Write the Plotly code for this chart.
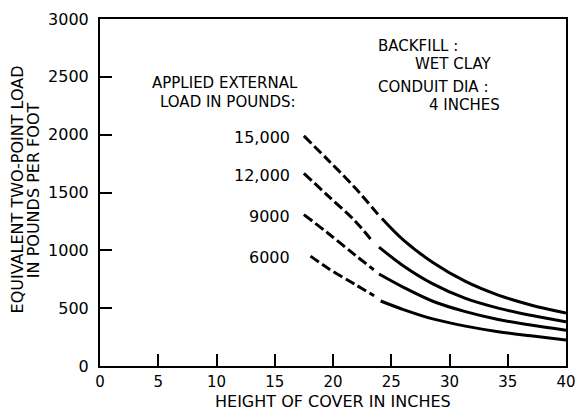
import plotly.graph_objects as go

# ---- data ----
loads = ["15,000", "12,000", "9000", "6000"]

# dashed (extrapolated) portion of each curve
dash_x = [
    [17.5, 19.6, 21.85, 23.95],
    [17.5, 19.6, 21.85, 23.4],
    [17.5, 19.6, 21.85, 23.5],
    [18.07, 19.6, 21.85, 23.53],
]
dash_y = [
    [1989, 1778, 1545, 1300],
    [1666, 1469, 1258, 1076],
    [1309, 1146, 963, 832],
    [950, 843, 708, 607],
]

# solid portion of each curve
solid_x = [
    [24.2, 26.05, 28.57, 31.37, 34.18, 36.97, 40],
    [23.95, 26.05, 28.57, 31.37, 34.18, 36.97, 40],
    [23.95, 26.05, 28.57, 31.37, 34.18, 36.97, 40],
    [24.09, 26.05, 28.57, 31.37, 34.18, 36.97, 40],
]
solid_y = [
    [1275, 1088, 895, 731, 613, 528, 458],
    [1028, 865, 710, 584, 500, 438, 382],
    [795, 680, 560, 470, 402, 354, 310],
    [562, 488, 407, 345, 297, 261, 225],
]

x_ticks = [0, 5, 10, 15, 20, 25, 30, 35, 40]
y_ticks = [0, 500, 1000, 1500, 2000, 2500, 3000]

FONT = "DejaVu Sans"
INK = "black"

fig = go.Figure()

for i in range(len(loads)):
    fig.add_trace(go.Scatter(
        x=dash_x[i], y=dash_y[i], mode="lines",
        line=dict(color=INK, width=3, dash="10px,4px", shape="spline"),
        hoverinfo="skip", showlegend=False,
    ))
    fig.add_trace(go.Scatter(
        x=solid_x[i], y=solid_y[i], mode="lines",
        line=dict(color=INK, width=3, shape="spline"),
        name=loads[i], showlegend=False,
    ))

ann = []
# series labels (right-aligned just left of each curve start)
for i in range(len(loads)):
    ann.append(dict(x=16.4, y=dash_y[i][0] - 15, xref="x", yref="y",
                    text=loads[i], showarrow=False, xanchor="right",
                    yanchor="middle", borderpad=0,
                    font=dict(size=16, color=INK, family=FONT)))

def txt(x, y, s, xanchor="left", size=15, xref="x", yref="y", angle=0):
    ann.append(dict(x=x, y=y, xref=xref, yref=yref, text=s, showarrow=False,
                    xanchor=xanchor, yanchor="middle", textangle=angle,
                    borderpad=0,
                    font=dict(size=size, color=INK, family=FONT)))

txt(10.75, 2445, "APPLIED EXTERNAL", xanchor="center")
txt(10.95, 2284, "LOAD IN POUNDS:", xanchor="center")
txt(23.78, 2768, "BACKFILL :")
txt(26.97, 2610, "WET CLAY")
txt(23.78, 2412, "CONDUIT DIA :")
txt(28.15, 2256, "4 INCHES")

# axis titles
txt(0.5, -0.101, "HEIGHT OF COVER IN INCHES", xanchor="center", size=16,
    xref="paper", yref="paper")
txt(-0.1765, 0.508, "EQUIVALENT TWO-POINT LOAD", xanchor="center", size=16,
    xref="paper", yref="paper", angle=-90)
txt(-0.1429, 0.508, "IN POUNDS PER FOOT", xanchor="center", size=16,
    xref="paper", yref="paper", angle=-90)

fig.update_layout(
    width=586, height=413,
    margin=dict(l=100, r=10, t=10, b=47),
    paper_bgcolor="white", plot_bgcolor="white",
    annotations=ann,
    font=dict(family=FONT, color=INK),
)
fig.update_xaxes(
    range=[0, 40], tickvals=x_ticks, ticktext=[str(v) for v in x_ticks],
    showgrid=False, zeroline=False,
    showline=True, linecolor=INK, linewidth=2, mirror=True,
    ticks="inside", ticklen=12, tickwidth=1.5, tickcolor=INK,
    tickfont=dict(size=15, color=INK, family=FONT), ticklabelstandoff=1,
)
fig.update_yaxes(
    range=[0, 3000], tickvals=y_ticks, ticktext=[str(v) for v in y_ticks],
    showgrid=False, zeroline=False,
    showline=True, linecolor=INK, linewidth=2, mirror=True,
    ticks="inside", ticklen=12, tickwidth=1.5, tickcolor=INK,
    tickfont=dict(size=16, color=INK, family=FONT), ticklabelstandoff=6,
)

fig.write_html("out.html")
